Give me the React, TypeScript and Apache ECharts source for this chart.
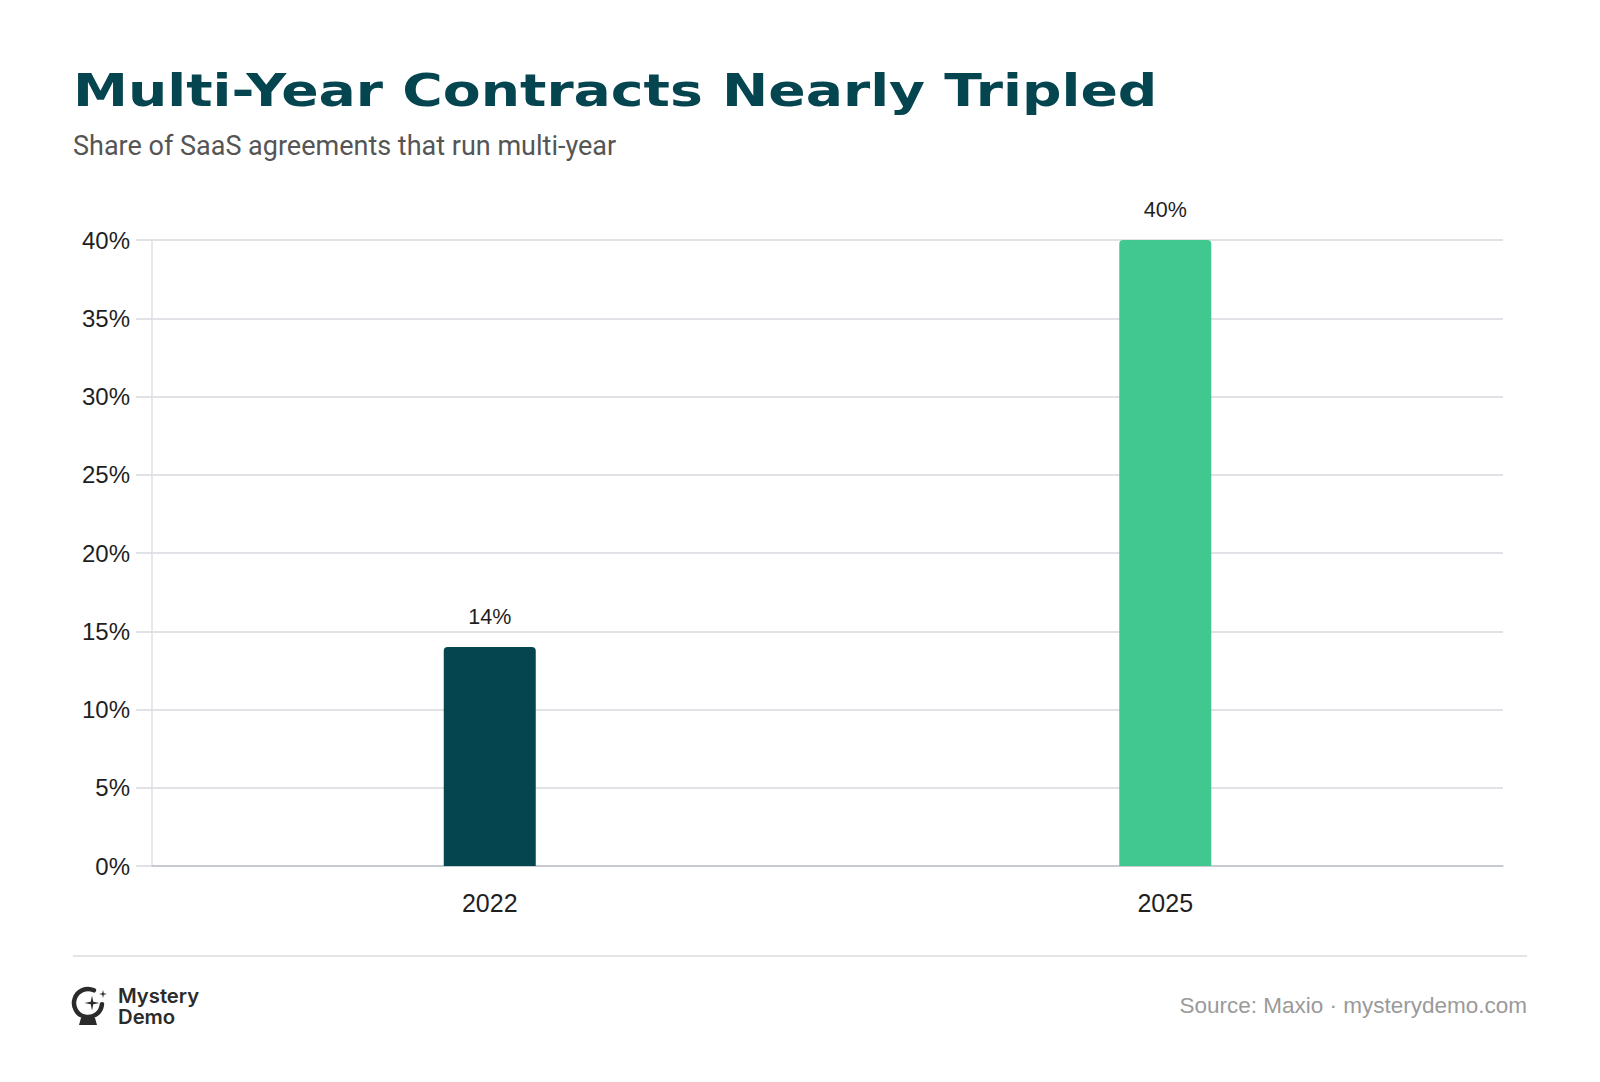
import React, { useEffect, useRef } from "react";
import * as echarts from "echarts";

const categories = ["2022", "2025"];
const shares = [14, 40];
const barColors = ["#04454F", "#41C891"];
const yTicks = [0, 5, 10, 15, 20, 25, 30, 35, 40];

const TITLE = "Multi-Year Contracts Nearly Tripled";
const SUBTITLE = "Share of SaaS agreements that run multi-year";
const SOURCE = "Source: Maxio · mysterydemo.com";
const BRAND = "Mystery\nDemo";

function star(cx: number, cy: number, R: number, r: number): number[][] {
  const pts: number[][] = [];
  for (let i = 0; i < 8; i++) {
    const a = (Math.PI / 4) * i - Math.PI / 2;
    const rad = i % 2 === 0 ? R : r;
    pts.push([cx + rad * Math.cos(a), cy + rad * Math.sin(a)]);
  }
  return pts;
}

export default function App() {
  const ref = useRef<HTMLDivElement>(null);
  useEffect(() => {
    document.body.style.margin = "0";
    const chart = echarts.init(ref.current!, undefined, { renderer: "svg" });
    const deg = Math.PI / 180;
    chart.setOption({
      animation: false,
      backgroundColor: "#ffffff",
      grid: { left: 152, right: 97, top: 240, bottom: 216, containLabel: false },
      xAxis: {
        type: "category",
        data: categories,
        axisTick: { show: false },
        axisLine: { show: true, lineStyle: { color: "#bfc3c8", width: 1.5 } },
        axisLabel: { color: "#1f1f1f", fontSize: 25, fontFamily: "Liberation Sans", margin: 24 },
      },
      yAxis: {
        type: "value",
        min: yTicks[0],
        max: yTicks[yTicks.length - 1],
        interval: 5,
        axisLine: { show: true, lineStyle: { color: "#dfe1e4", width: 1.5 } },
        axisTick: { show: true, length: 16, lineStyle: { color: "#d6d9dd", width: 1.5 } },
        splitLine: { show: true, lineStyle: { color: "#d6d9dd", width: 1.5 } },
        axisLabel: {
          color: "#1f1f1f",
          fontSize: 24,
          fontFamily: "Liberation Sans",
          margin: 22,
          formatter: (v: number) => `${v}%`,
        },
      },
      series: [
        {
          type: "bar",
          barWidth: 92,
          data: shares.map((v, i) => ({ value: v, itemStyle: { color: barColors[i] } })),
          itemStyle: { borderRadius: [4, 4, 0, 0] },
          label: {
            show: true,
            position: "top",
            distance: 19,
            color: "#1f1f1f",
            fontSize: 21.5,
            fontFamily: "Liberation Sans",
            formatter: (p: any) => `${p.value}%`,
          },
        },
      ],
      graphic: [
        {
          type: "text",
          left: 73,
          top: 69,
          scaleX: 1.255,
          style: {
            text: TITLE,
            fill: "#05454F",
            font: "bold 44px 'DejaVu Sans'",
          },
        },
        {
          type: "text",
          left: 73,
          top: 132,
          style: {
            text: SUBTITLE,
            fill: "#555555",
            font: "27px Roboto",
          },
        },
        {
          type: "line",
          shape: { x1: 73, y1: 956, x2: 1527, y2: 956 },
          style: { stroke: "#dcdcdc", lineWidth: 1.5 },
        },
        {
          type: "arc",
          shape: { cx: 88, cy: 1003, r: 14, startAngle: 5 * deg, endAngle: 295 * deg, clockwise: true },
          style: { stroke: "#2b2b2b", lineWidth: 4.5, fill: "none", lineCap: "round" },
        },
        {
          type: "polygon",
          shape: { points: star(92, 1003, 7.5, 1.8) },
          style: { fill: "#2b2b2b" },
        },
        {
          type: "polygon",
          shape: { points: star(103, 994, 4, 1.1) },
          style: { fill: "#2b2b2b" },
        },
        {
          type: "polygon",
          shape: { points: [[79, 1025], [97, 1025], [95, 1018], [81, 1018]] },
          style: { fill: "#2b2b2b" },
        },
        {
          type: "text",
          left: 118,
          top: 986,
          scaleX: 1.04,
          style: { text: BRAND, fill: "#2b2b2b", font: "600 19.5px Inter", lineHeight: 21 },
        },
        {
          type: "text",
          right: 73,
          top: 994,
          style: { text: SOURCE, fill: "#9a9a9a", font: "22.5px 'Liberation Sans'" },
        },
      ],
    });
    return () => chart.dispose();
  }, []);
  return <div ref={ref} style={{ width: 1600, height: 1082 }} />;
}
